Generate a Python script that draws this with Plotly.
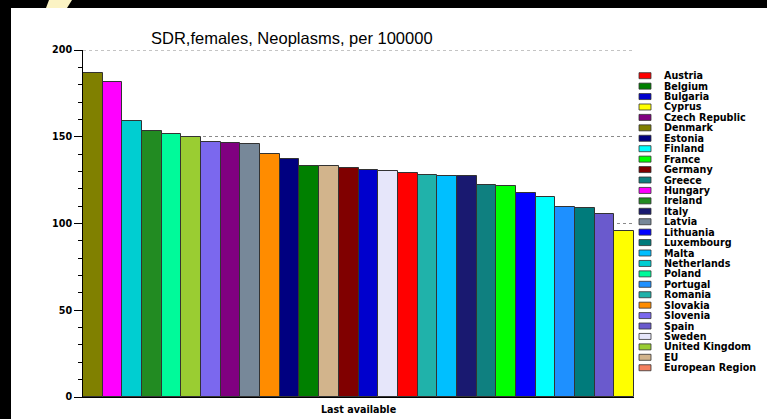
import plotly.graph_objects as go

# ---------------- data ----------------
legend_names = ["Austria", "Belgium", "Bulgaria", "Cyprus", "Czech Republic", "Denmark",
                "Estonia", "Finland", "France", "Germany", "Greece", "Hungary", "Ireland",
                "Italy", "Latvia", "Lithuania", "Luxembourg", "Malta", "Netherlands",
                "Poland", "Portugal", "Romania", "Slovakia", "Slovenia", "Spain", "Sweden",
                "United Kingdom", "EU", "European Region"]
legend_colors = ["#FF0000", "#008000", "#0000CD", "#FFFF00", "#800080", "#808000",
                 "#000080", "#00FFFF", "#00FF00", "#800000", "#0F8080", "#FF00FF", "#228B22",
                 "#191970", "#778899", "#0000FF", "#007B7B", "#00BFFF", "#00CED1",
                 "#00FA9A", "#1E90FF", "#20B2AA", "#FF8C00", "#7B68EE", "#6A5ACD", "#E6E6FA",
                 "#9ACD32", "#D2B48C", "#F4805F"]

bar_countries = ["Denmark", "Hungary", "Netherlands", "Ireland", "Poland", "United Kingdom",
                 "Slovenia", "Czech Republic", "Latvia", "Slovakia", "Estonia", "Belgium",
                 "EU", "Germany", "Bulgaria", "Sweden", "Austria", "Romania", "Malta",
                 "Italy", "Greece", "France", "Lithuania", "Finland", "Portugal",
                 "Luxembourg", "Spain", "Cyprus"]
bar_values = [186.9, 181.4, 158.9, 153.5, 151.6, 150.0, 147.0, 146.4, 145.6, 140.2, 137.4,
              133.3, 132.9, 132.1, 131.0, 130.0, 129.3, 128.1, 127.5, 127.2, 122.0, 121.6,
              117.6, 115.3, 109.7, 108.7, 105.3, 95.9]

y_ticks = [0, 50, 100, 150, 200]
title_text = "SDR,females, Neoplasms, per 100000"
x_title = "Last available"

# ---------------- layout geometry ----------------
W, H = 767, 419
L, R, T, B = 83, 634, 50, 397   # plot area in pixels


def xp(px):
    return (px - L) / (R - L)


def yp(py):
    return (B - py) / (B - T)


color_of = dict(zip(legend_names, legend_colors))

fig = go.Figure()
fig.add_trace(go.Bar(
    x=bar_countries,
    y=bar_values,
    marker=dict(color=[color_of[c] for c in bar_countries],
                line=dict(color="#333333", width=1)),
    showlegend=False,
))

small_font = dict(family="DejaVu Sans", size=9.6, color="#000000")

shapes = []
annotations = []

# top gridline (plotly drops the grid line lying on the plot edge)
shapes.append(dict(type="line", xref="paper", yref="y", x0=0, x1=1,
                   y0=y_ticks[-1], y1=y_ticks[-1], layer="below",
                   line=dict(color="#8a8a8a", width=1, dash="dot")))

# manual legend (compact spacing)
y0 = 75.7
step = 10.43
for i, (name, col) in enumerate(zip(legend_names, legend_colors)):
    cy = y0 + i * step
    shapes.append(dict(type="rect", xref="paper", yref="paper",
                       x0=xp(639), x1=xp(651), y0=yp(cy + 3), y1=yp(cy - 3),
                       fillcolor=col, line=dict(color="#333333", width=0.8)))
    annotations.append(dict(xref="paper", yref="paper", x=xp(662), y=yp(cy),
                            xanchor="left", yanchor="middle", showarrow=False,
                            text="<b>" + name + "</b>", font=small_font))

# x axis title
annotations.append(dict(xref="paper", yref="paper", x=xp(359), y=yp(409),
                        xanchor="center", yanchor="middle", showarrow=False,
                        text="<b>" + x_title + "</b>", font=small_font))

# title (placed as in the original slide, left of plot centre)
annotations.append(dict(xref="paper", yref="paper", x=xp(292), y=yp(38),
                        xanchor="center", yanchor="middle", showarrow=False,
                        text=title_text,
                        font=dict(family="Liberation Sans", size=16.5, color="#000000")))

# black frame (left and top strips) and yellow decoration
shapes.append(dict(type="rect", xref="paper", yref="paper", x0=xp(0), x1=xp(11),
                   y0=yp(H), y1=yp(0), fillcolor="#000000", line=dict(width=0)))
shapes.append(dict(type="rect", xref="paper", yref="paper", x0=xp(0), x1=xp(W),
                   y0=yp(8), y1=yp(0), fillcolor="#000000", line=dict(width=0)))
shapes.append(dict(type="path", xref="paper", yref="paper",
                   path="M {} {} L {} {} L {} {} L {} {} Z".format(
                       xp(49), yp(0), xp(72), yp(0), xp(67), yp(8), xp(46), yp(8)),
                   fillcolor="#FBF3C4", line=dict(width=0)))

fig.update_layout(
    width=W, height=H,
    margin=dict(l=L, r=W - R, t=T, b=H - B, pad=0, autoexpand=False),
    paper_bgcolor="#FFFFFF",
    plot_bgcolor="#FFFFFF",
    bargap=0,
    xaxis=dict(showticklabels=False, ticks="", showgrid=False, zeroline=False,
               showline=True, linecolor="#000000", linewidth=1,
               range=[-0.5, len(bar_countries) - 0.5], fixedrange=True),
    yaxis=dict(range=[0, 200], tickvals=y_ticks,
               ticktext=["<b>%d</b>" % v for v in y_ticks],
               tickfont=small_font, ticks="outside", ticklen=8, tickcolor="#000000",
               tickwidth=1, showline=True, linecolor="#000000", linewidth=1,
               showgrid=True, gridcolor="#8a8a8a", griddash="dot", gridwidth=1,
               zeroline=False,
               minor=dict(dtick=10, ticks="outside", ticklen=4, tickcolor="#000000",
                          showgrid=False)),
    shapes=shapes,
    annotations=annotations,
    showlegend=False,
)

fig.write_html("out.html",
               config={"displayModeBar": False},
               post_script="document.body.style.margin='0';"
                           "document.body.style.overflow='hidden';")
